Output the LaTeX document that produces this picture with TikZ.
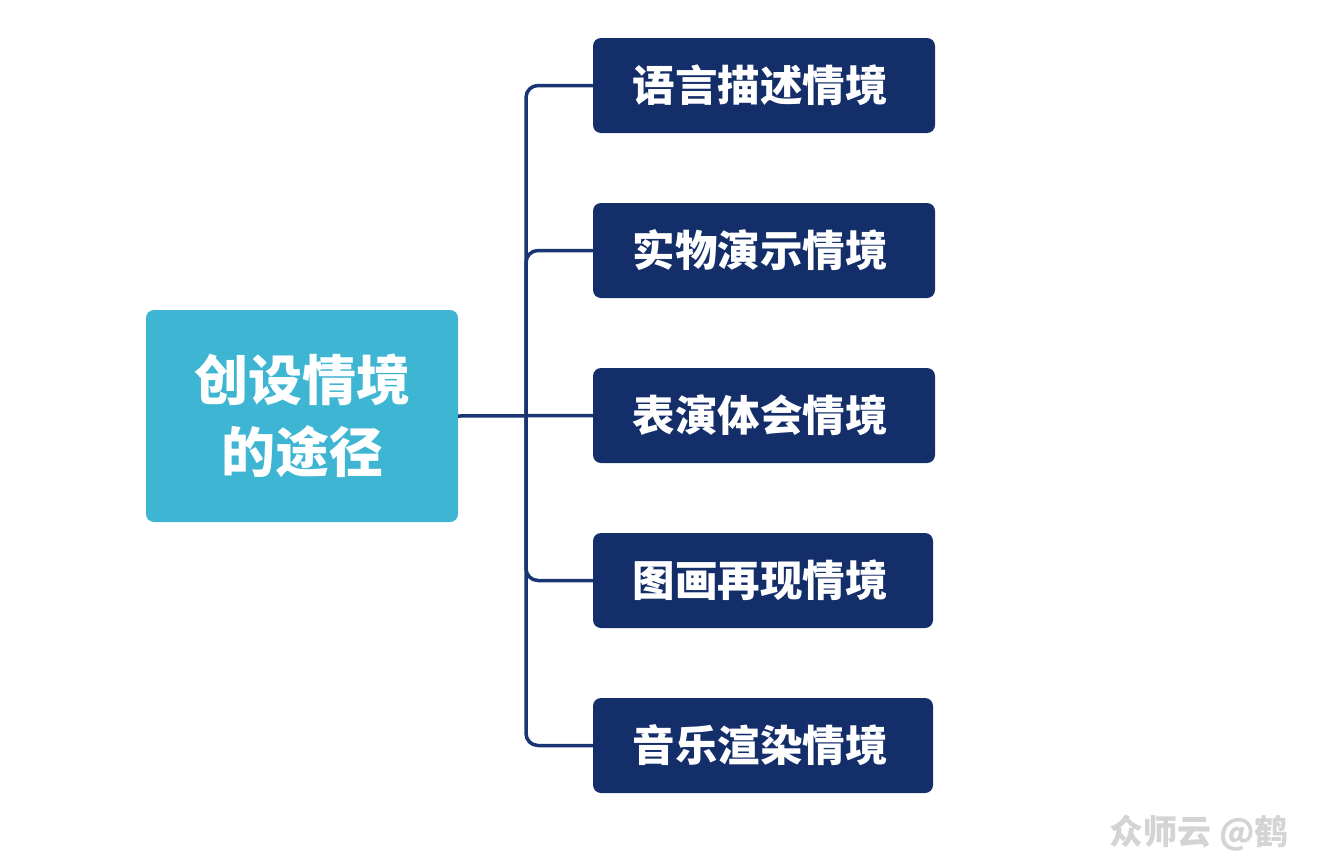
\documentclass[tikz,border=0pt]{standalone}
\usepackage{fontspec}
\newfontfamily\cjk{Noto Sans CJK SC}
\definecolor{navy}{HTML}{142E6A}
\definecolor{linec}{HTML}{1A3574}
\definecolor{teal}{HTML}{3EB6D3}
\definecolor{wm}{HTML}{D4D4D4}
\newcommand{\padr}{\hspace*{8pt}}
\tikzset{
  sub/.style={fill=navy, rounded corners=8pt, minimum width=342pt, minimum height=95pt, inner sep=0pt,
     text=white, font=\cjk\bfseries\fontsize{42.5}{49}\selectfont},
  root/.style={fill=teal, rounded corners=8pt, minimum width=312pt, minimum height=212pt, inner sep=0pt,
     text=white, align=center, font=\cjk\bfseries\fontsize{54}{72}\selectfont},
  conn/.style={draw=linec, line width=3.5pt, rounded corners=12pt}
}
\begin{document}
\begin{tikzpicture}[x=1pt,y=-1pt]
\useasboundingbox (0,0) rectangle (1319,857);
\node[root] (c) at (302,416) {创设情境\\的途径};
\node[sub] (b1) at (764,85.5) {语言描述情境\padr};
\node[sub] (b2) at (764,250.5) {实物演示情境\padr};
\node[sub] (b3) at (764,415.5) {表演体会情境\padr};
\node[sub, minimum width=340pt] (b4) at (763,580.5) {图画再现情境\hspace*{6pt}};
\node[sub, minimum width=340pt] (b5) at (763,745.5) {音乐渲染情境\hspace*{6pt}};
\coordinate (bus) at (526,415.5);
\draw[conn] (c.east) -- (b3.west);
\draw[conn] (b1.west) -| (bus);
\draw[conn] (b2.west) -| (bus);
\draw[conn] (b4.west) -| (bus);
\draw[conn] (b5.west) -| (bus);
\node[text=wm, font=\cjk\bfseries\fontsize{34}{38}\selectfont, inner sep=0pt] (wm) at (1199,833) {众师云 @鹤};
\end{tikzpicture}
\end{document}
